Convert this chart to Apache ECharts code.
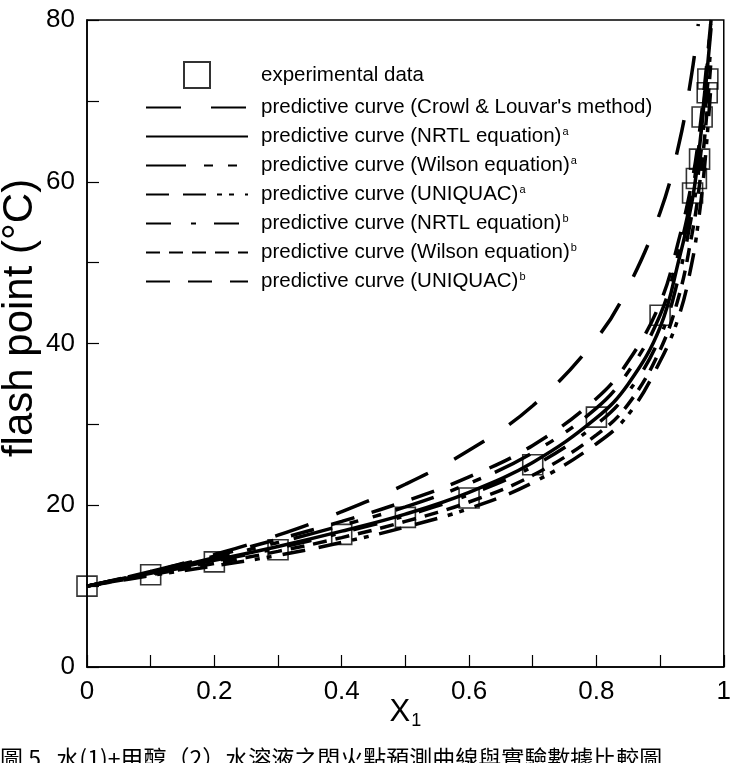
<!DOCTYPE html>
<html>
<head>
<meta charset="utf-8">
<script src="https://cdn.jsdelivr.net/npm/echarts@6/dist/echarts.min.js"></script>
<style>
html, body { margin: 0; padding: 0; background: #fff; }
#main { width: 734px; height: 763px; }
</style>
</head>
<body>
<div id="main"></div>
<script>
// experimental flash points
var expX = [0, 0.1, 0.2, 0.3, 0.4, 0.5, 0.6, 0.7, 0.8, 0.9, 0.951, 0.957, 0.962, 0.966, 0.974, 0.975];
var expY = [10, 11.4, 13.0, 14.5, 16.4, 18.5, 20.9, 25.0, 30.9, 43.5, 58.6, 60.4, 62.8, 68.0, 71.0, 72.7];

// predictive curves
var curveX = [0, 0.1, 0.2, 0.3, 0.4, 0.5, 0.6, 0.7, 0.8, 0.85, 0.9, 0.93, 0.95, 0.96, 0.97, 0.98];
var crowlX = [0, 0.1, 0.2, 0.3, 0.4, 0.5, 0.6, 0.7, 0.8, 0.85, 0.9, 0.93, 0.95, 0.96];
var crowlY = [10, 11.8, 13.9, 16.3, 19.2, 22.6, 26.8, 32.3, 40.6, 47.0, 56.2, 64.8, 73.5, 79.5];
var nrtlA = [10, 11.6, 13.2, 14.9, 16.8, 18.9, 21.6, 25.3, 30.8, 35.0, 42.0, 50.5, 57.5, 63.0, 70.5, 79.0];
var wilsonA = [10, 11.7, 13.5, 15.4, 17.5, 19.8, 22.7, 26.5, 32.0, 36.5, 43.5, 51.5, 58.5, 63.8, 71.0, 80.0];
var uniquacA = [10, 11.3, 12.5, 13.8, 15.4, 17.3, 19.6, 22.8, 27.6, 31.2, 37.8, 43.5, 50.0, 55.0, 62.0, 72.0];
var nrtlB = [10, 11.5, 13.1, 14.7, 16.6, 18.7, 21.3, 24.8, 30.0, 34.0, 40.8, 48.5, 56.0, 61.0, 68.0, 77.0];
var wilsonB = [10, 11.4, 12.8, 14.3, 16.0, 18.0, 20.4, 23.7, 28.7, 32.5, 39.2, 46.0, 53.5, 58.5, 65.5, 75.0];
var uniquacB = [10, 11.8, 13.7, 15.8, 18.0, 20.5, 23.5, 27.4, 33.2, 37.8, 45.0, 53.0, 60.0, 65.0, 72.0, 80.0];

var legendNames = ['exp', 'crowl', 'nrtlA', 'wilsonA', 'uniquacA', 'nrtlB', 'wilsonB', 'uniquacB'];
var legendLabels = {
  'exp': 'experimental data',
  'crowl': "predictive curve (Crowl & Louvar's method)",
  'nrtlA': 'predictive curve (NRTL equation){s|a}',
  'wilsonA': 'predictive curve (Wilson equation){s|a}',
  'uniquacA': 'predictive curve (UNIQUAC){s|a}',
  'nrtlB': 'predictive curve (NRTL equation){s|b}',
  'wilsonB': 'predictive curve (Wilson equation){s|b}',
  'uniquacB': 'predictive curve (UNIQUAC){s|b}'
};

function pairs(xs, ys) {
  return xs.map(function (x, i) { return [x, ys[i]]; });
}

function curve(name, xs, ys, dash) {
  return {
    name: name,
    type: 'line',
    data: pairs(xs, ys),
    symbol: 'none',
    smooth: 0.4,
    itemStyle: { color: 'rgba(0,0,0,0)' },
    lineStyle: { color: '#000', width: 3.5, type: dash },
    z: 3
  };
}

var myChart = echarts.init(document.getElementById('main'));

var option = {
  animation: false,
  backgroundColor: '#fff',
  grid: {
    left: 87, right: 3, top: 20, bottom: 96,
    show: true, borderColor: '#000', borderWidth: 1.5
  },
  legend: {
    orient: 'vertical',
    left: 140,
    top: 56,
    itemWidth: 102,
    itemHeight: 26,
    itemGap: 8,
    selectedMode: false,
    data: legendNames.map(function (n) {
      if (n === 'exp') {
        return { name: n, icon: 'path://M0,0H10V10H0Z' };
      }
      return { name: n, itemStyle: { color: 'rgba(0,0,0,0)', borderWidth: 0, opacity: 0 } };
    }),
    formatter: function (name) { return legendLabels[name]; },
    textStyle: {
      color: '#000',
      fontFamily: 'Liberation Sans',
      fontSize: 20.5,
      padding: [0, 0, 0, 8],
      rich: {
        s: { fontSize: 11, fontFamily: 'Liberation Sans', color: '#000', verticalAlign: 'top', padding: [0, 0, 9, 1] }
      }
    }
  },
  xAxis: {
    type: 'value',
    min: 0, max: 1, interval: 0.2,
    name: '{a|X}{b|1}',
    nameLocation: 'middle',
    nameGap: 28,
    nameMoveOverlap: false,
    nameTextStyle: {
      rich: {
        a: { fontSize: 31, fontFamily: 'Liberation Sans', color: '#000' },
        b: { fontSize: 18, fontFamily: 'Liberation Sans', color: '#000', padding: [17, 0, 0, 1] }
      }
    },
    axisLine: { lineStyle: { color: '#000', width: 1.5 } },
    axisTick: { inside: true, length: 12, lineStyle: { color: '#000', width: 1.2 } },
    minorTick: { show: true, splitNumber: 2, length: 12, lineStyle: { color: '#000', width: 1.2 } },
    splitLine: { show: false },
    axisLabel: { color: '#000', fontSize: 26, fontFamily: 'Liberation Sans', margin: 12 }
  },
  yAxis: {
    type: 'value',
    min: 0, max: 80, interval: 20,
    axisLine: { show: true, lineStyle: { color: '#000', width: 1.5 } },
    axisTick: { show: true, inside: true, length: 12, lineStyle: { color: '#000', width: 1.2 } },
    minorTick: { show: true, splitNumber: 2, length: 12, lineStyle: { color: '#000', width: 1.2 } },
    splitLine: { show: false },
    axisLabel: { color: '#000', fontSize: 26, fontFamily: 'Liberation Sans', margin: 12 }
  },
  graphic: [
    {
      type: 'text',
      x: 20, y: 318,
      rotation: Math.PI / 2,
      style: {
        text: 'flash point (\u00B0C)',
        fontSize: 42, fontFamily: 'Liberation Sans', fill: '#000',
        textAlign: 'center', textVerticalAlign: 'middle'
      }
    },
    {
      type: 'text',
      left: 0, top: 747,
      style: {
        text: '圖 5   水(1)+甲醇（2）水溶液之閃火點預測曲線與實驗數據比較圖',
        fontSize: 23, fontFamily: 'Noto Sans CJK TC', fill: '#000'
      }
    }
  ],
  series: [
    {
      name: 'exp',
      type: 'scatter',
      data: pairs(expX, expY),
      symbol: 'rect',
      symbolSize: 20,
      itemStyle: { color: 'rgba(0,0,0,0)', borderColor: '#000', borderWidth: 1.6 },
      z: 2
    },
    curve('crowl', crowlX, crowlY, [35, 30]),
    curve('nrtlA', curveX, nrtlA, 'solid'),
    curve('wilsonA', curveX, wilsonA, [40, 18, 9, 15, 9, 15]),
    curve('uniquacA', curveX, uniquacA, [23, 14, 23, 11, 5, 7, 5, 11]),
    curve('nrtlB', curveX, nrtlB, [25, 20, 5, 18]),
    curve('wilsonB', curveX, wilsonB, [14, 9]),
    curve('uniquacB', curveX, uniquacB, [24, 18])
  ]
};

myChart.setOption(option);
</script>
</body>
</html>
